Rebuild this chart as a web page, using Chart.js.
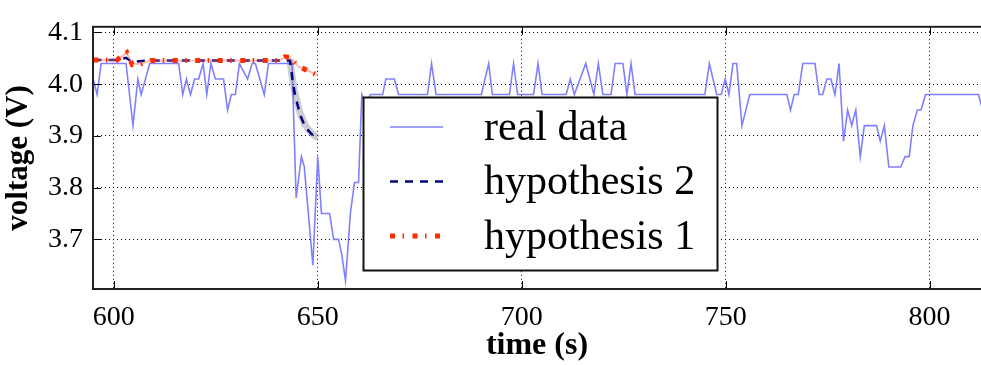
<!DOCTYPE html>
<html>
<head>
<meta charset="utf-8">
<script src="https://cdn.jsdelivr.net/npm/chart.js@4.4.0/dist/chart.umd.min.js"></script>
<style>
  html, body { margin: 0; padding: 0; background: #fff; }
</style>
</head>
<body>
<canvas id="chart" width="981" height="365"></canvas>
<script>
var SERIF = '"Liberation Serif", "Times New Roman", serif';

var xTicks = [600, 650, 700, 750, 800];
var yTicks = [3.7, 3.8, 3.9, 4.0, 4.1];

// measured voltage, time in s
var realT = [594.0, 595.9, 596.9, 603.0, 604.7, 605.9, 606.7, 608.8, 615.9, 616.9,
             617.8, 618.8, 619.8, 620.8, 621.9, 622.8, 623.8, 624.9, 626.9, 627.9,
             628.8, 629.8, 630.8, 632.8, 633.9, 634.7, 636.9, 637.9, 643.7, 644.7,
             646.0, 646.7, 648.8, 650.0, 650.9, 652.9, 653.9, 655.1, 655.9, 656.8,
             658.0, 659.0, 660.0, 660.8, 661.9, 662.9, 665.9, 666.7, 668.8, 669.8,
             676.9, 677.9, 679.0, 690.1, 691.9, 692.8, 697.0, 698.0, 699.0, 702.9,
             704.0, 705.0, 710.9, 711.9, 712.9, 715.7, 717.7, 718.8, 719.9, 721.9,
             722.9, 724.8, 725.8, 726.8, 727.8, 744.9, 746.0, 747.8, 748.9, 749.9,
             750.8, 751.8, 752.7, 754.0, 755.9, 765.0, 765.9, 766.8, 767.8, 768.9,
             771.9, 772.9, 773.8, 774.8, 775.8, 776.8, 777.8, 778.9, 779.9, 780.9,
             781.9, 783.0, 784.0, 787.0, 787.9, 788.9, 790.0, 792.9, 794.0, 795.0,
             795.9, 797.0, 797.9, 799.0, 812.0, 813.0];
var realV = [4.04, 3.98, 4.04, 4.04, 3.92, 4.01, 3.98, 4.04, 4.04, 3.98,
             4.01, 3.98, 4.01, 4.01, 4.04, 3.98, 4.04, 4.01, 4.01, 3.95,
             3.98, 3.98, 4.04, 4.01, 4.04, 4.04, 3.98, 4.04, 4.04, 3.78,
             3.86, 3.84, 3.65, 3.86, 3.75, 3.75, 3.70, 3.70, 3.67, 3.62,
             3.75, 3.81, 3.81, 3.98, 3.96, 3.98, 3.98, 4.01, 4.01, 3.98,
             3.98, 4.04, 3.98, 3.98, 4.04, 3.98, 3.98, 4.04, 3.98, 3.98,
             4.04, 3.98, 3.98, 4.01, 3.98, 4.04, 3.98, 4.04, 3.98, 3.98,
             4.04, 4.04, 3.98, 4.04, 3.98, 3.98, 4.04, 3.98, 3.98, 4.01,
             3.98, 4.04, 4.04, 3.92, 3.98, 3.98, 3.95, 3.98, 3.98, 4.04,
             4.04, 3.98, 3.98, 4.01, 4.01, 3.98, 4.04, 3.89, 3.95, 3.92,
             3.95, 3.86, 3.92, 3.92, 3.89, 3.92, 3.84, 3.84, 3.86, 3.86,
             3.92, 3.95, 3.95, 3.98, 3.98, 3.95];

var hyp2T = [595.0, 601.0, 603.0, 604.5, 607.0, 609.0, 643.2, 643.8, 644.4, 645.7, 646.9, 648.4, 650.0];
var hyp2V = [4.047, 4.047, 4.051, 4.043, 4.045, 4.046, 4.046, 4.010, 3.980, 3.940, 3.918, 3.904, 3.895];

// grey spread around hypothesis 2 during the drop
var bandT = [643.2, 643.8, 644.4, 645.7, 646.9, 648.4, 650.0];
var bandV = [4.046, 4.010, 3.982, 3.943, 3.921, 3.906, 3.896];

var hyp1T = [595.0, 600.8, 603.2, 604.5, 606.9, 609.0, 640.8, 642.0, 643.1, 645.3, 647.7, 650.0];
var hyp1V = [4.047, 4.047, 4.061, 4.038, 4.040, 4.046, 4.046, 4.053, 4.052, 4.034, 4.026, 4.017];

var legendLabels = ['real data', 'hypothesis 2', 'hypothesis 1'];

function points(ts, vs) {
    var d = [];
    for (var i = 0; i < ts.length; i++) {
        d.push({x: ts[i], y: vs[i]});
    }
    return d;
}

// frame round the plot plus inward tick marks, like the matplotlib original
var framePlugin = {
    id: 'frame',
    afterDraw: function(chart) {
        var ctx = chart.ctx, a = chart.chartArea;
        var xs = chart.scales.x, ys = chart.scales.y;
        ctx.save();
        ctx.strokeStyle = '#000';
        ctx.lineWidth = 1;
        ctx.beginPath();
        xs.ticks.forEach(function(t) {
            var px = Math.round(xs.getPixelForValue(t.value)) + 0.5;
            ctx.moveTo(px, a.bottom); ctx.lineTo(px, a.bottom - 8);
            ctx.moveTo(px, a.top); ctx.lineTo(px, a.top + 8);
        });
        ys.ticks.forEach(function(t) {
            var py = Math.round(ys.getPixelForValue(t.value)) + 0.5;
            ctx.moveTo(a.left, py); ctx.lineTo(a.left + 8, py);
        });
        ctx.stroke();
        ctx.strokeStyle = '#222';
        ctx.lineWidth = 2;
        ctx.strokeRect(a.left, a.top, a.right - a.left + 4, a.bottom - a.top);
        ctx.restore();
    }
};

var legendPlugin = {
    id: 'boxLegend',
    afterDraw: function(chart) {
        var ctx = chart.ctx;
        var box = {x: 363.5, y: 97.5, w: 354, h: 173};
        ctx.save();
        ctx.fillStyle = '#fff';
        ctx.fillRect(box.x, box.y, box.w, box.h);
        ctx.strokeStyle = '#111';
        ctx.lineWidth = 2;
        ctx.strokeRect(box.x, box.y, box.w, box.h);
        ctx.font = '42px ' + SERIF;
        ctx.fillStyle = '#000';
        ctx.textBaseline = 'alphabetic';
        for (var i = 0; i < legendLabels.length; i++) {
            var ds = chart.data.datasets.find(function(d) { return d.label == legendLabels[i]; });
            var y = 127 + i * 54.5;
            ctx.save();
            ctx.strokeStyle = ds.borderColor;
            ctx.lineWidth = ds.borderWidth;
            ctx.lineCap = 'butt';
            ctx.setLineDash(ds.borderDash || []);
            ctx.beginPath();
            ctx.moveTo(390, y);
            ctx.lineTo(443, y);
            ctx.stroke();
            ctx.restore();
            ctx.fillText(ds.label, 484, y + 12.5);
        }
        ctx.restore();
    }
};

var conf = {
    type: 'line',
    data: {
        datasets: [
            {
                label: 'hypothesis 1',
                data: points(hyp1T, hyp1V),
                borderColor: '#ff2d00',
                borderWidth: 5,
                borderDash: [5, 7.5, 1.5, 8.5],
                borderCapStyle: 'butt',
                order: 0,
            },
            {
                label: 'hyp1 spread',
                data: points(hyp1T, hyp1V),
                borderColor: 'rgba(255,110,90,0.45)',
                borderWidth: 2,
                order: 1,
            },
            {
                label: 'hypothesis 2',
                data: points(hyp2T, hyp2V),
                borderColor: '#000080',
                borderWidth: 2.5,
                borderDash: [8, 7],
                order: 2,
            },
            {
                label: 'hyp2 spread',
                data: points(bandT, bandV),
                borderColor: 'rgba(110,110,135,0.35)',
                borderWidth: 7,
                order: 3,
            },
            {
                label: 'real data',
                data: points(realT, realV),
                borderColor: '#8080ff',
                borderWidth: 1.6,
                order: 4,
            },
        ],
    },
    options: {
        responsive: false,
        animation: false,
        devicePixelRatio: 1,
        layout: {padding: {top: 14, left: 0, right: 0, bottom: 0}},
        elements: {point: {radius: 0}, line: {tension: 0}},
        plugins: {legend: {display: false}, tooltip: {enabled: false}},
        scales: {
            x: {
                type: 'linear',
                min: 594.9,
                max: 812.6,
                afterBuildTicks: function(s) {
                    s.ticks = xTicks.map(function(v) { return {value: v}; });
                },
                afterFit: function(s) { s.height = 76; },
                grid: {color: '#000', lineWidth: 1, drawTicks: false},
                border: {display: false, dash: [1, 3]},
                ticks: {
                    color: '#000',
                    font: {family: SERIF, size: 28},
                    padding: 12,
                    maxRotation: 0,
                    callback: function(v) { return String(v); },
                },
                title: {
                    display: true,
                    text: 'time (s)',
                    color: '#000',
                    font: {family: SERIF, size: 32, weight: 'bold'},
                    padding: {top: 0, bottom: 0},
                },
            },
            y: {
                type: 'linear',
                min: 3.604,
                max: 4.111,
                afterBuildTicks: function(s) {
                    s.ticks = yTicks.map(function(v) { return {value: v}; });
                },
                afterFit: function(s) { s.width = 93; },
                grid: {color: '#000', lineWidth: 1, drawTicks: false},
                border: {display: false, dash: [1, 3]},
                ticks: {
                    color: '#000',
                    font: {family: SERIF, size: 28},
                    padding: 10,
                    callback: function(v) { return v.toFixed(1); },
                },
                title: {
                    display: true,
                    text: 'voltage (V)',
                    color: '#000',
                    font: {family: SERIF, size: 31, weight: 'bold'},
                    padding: {top: 0, bottom: 0},
                },
            },
        },
    },
    plugins: [framePlugin, legendPlugin],
};

new Chart(document.getElementById('chart').getContext('2d'), conf);
</script>
</body>
</html>
